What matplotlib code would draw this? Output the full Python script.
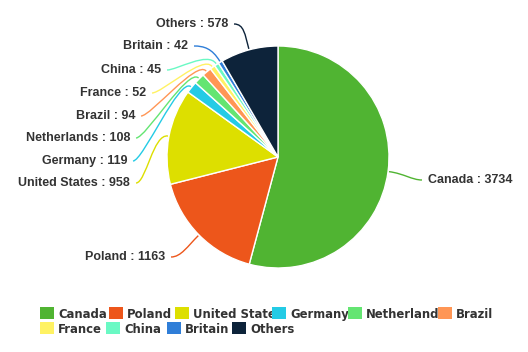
import matplotlib.pyplot as plt
from matplotlib.patches import Rectangle, PathPatch
from matplotlib.path import Path
import numpy as np

# data
countries = ['Canada', 'Poland', 'United States', 'Germany', 'Netherlands',
             'Brazil', 'France', 'China', 'Britain', 'Others']
visits = [3734, 1163, 958, 119, 108, 94, 52, 45, 42, 578]
colors = ['#50b432', '#ed561b', '#dddf00', '#24cbe5', '#64e572',
          '#ff9655', '#fff263', '#6af9c4', '#2f7ed8', '#0d233a']

W, H = 528, 352
cx, cy, r = 278, H - 157, 111

# label anchor (x, y from top) and alignment
label_pos = [(428, 180, 'left'), (165, 257, 'right'), (130, 183, 'right'),
             (127, 161, 'right'), (130, 138, 'right'), (135, 116, 'right'),
             (146, 93, 'right'), (161, 70, 'right'), (188, 46, 'right'),
             (228, 24, 'right')]

# legend layout (square left x, row)
legend_pos = [(40, 0), (109, 0), (175, 0), (272, 0), (348, 0), (438, 0),
              (40, 1), (106, 1), (167, 1), (232, 1)]

fig = plt.figure(figsize=(5.28, 3.52), dpi=100)
ax = fig.add_axes([0, 0, 1, 1])

wedges, _ = ax.pie(visits, colors=colors, startangle=90, counterclock=False,
                   center=(cx, cy), radius=r,
                   wedgeprops=dict(edgecolor='white', linewidth=1))
ax.set_xlim(0, W)
ax.set_ylim(0, H)
ax.set_aspect('equal')
ax.axis('off')

#labels + connectors
for w, name, v, col, (lx, ly, ha) in zip(wedges, countries, visits, colors, label_pos):
    ang = np.deg2rad((w.theta1 + w.theta2) / 2)
    y = H - ly
    ax.text(lx, y, name + ' : ' + str(v), ha=ha, va='center', fontsize=9,
            fontweight='bold', color='#333333', family='Liberation Sans')
    sx = lx + 6 if ha == 'right' else lx - 6
    d = 1 if ha == 'right' else -1
    p0 = (sx, y)
    p1 = (sx + d * 10, y)
    p2 = (cx + (r + 16) * np.cos(ang), cy + (r + 16) * np.sin(ang))
    p3 = (cx + (r + 1) * np.cos(ang), cy + (r + 1) * np.sin(ang))
    path = Path([p0, p1, p2, p3], [Path.MOVETO, Path.CURVE4, Path.CURVE4, Path.CURVE4])
    ax.add_patch(PathPatch(path, facecolor='none', edgecolor=col, lw=1))

# legend
for name, col, (lx, row) in zip(countries, colors, legend_pos):
    ytop = H - (307 + row * 15)
    ax.add_patch(Rectangle((lx, ytop - 12), 14, 12, facecolor=col, edgecolor='none', zorder=3))
    ax.text(lx + 18, ytop - 11, name, ha='left', va='baseline', fontsize=8.4,
            fontweight='bold', color='#333333', zorder=2)

fig.savefig('out.png', dpi=100, facecolor='white')
